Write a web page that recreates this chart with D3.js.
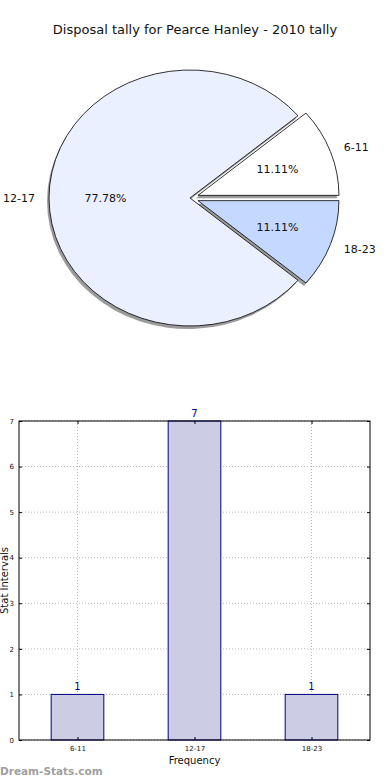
<!DOCTYPE html>
<html>
<head>
<meta charset="utf-8">
<script src="https://cdn.jsdelivr.net/npm/d3@7"></script>
<style>
  html, body { margin: 0; padding: 0; background: #fff; }
  svg { display: block; font-family: "DejaVu Sans", sans-serif; }
</style>
</head>
<body>
<div id="chart"></div>
<script>
// ── DATA ──────────────────────────────────────────────────────────────────
const TITLE = "Disposal tally for Pearce Hanley - 2010 tally";
const categories = ["6-11", "12-17", "18-23"];
const counts = [1, 7, 1];
const pieColors = ["#ffffff", "#eaf0ff", "#c5d8ff"];
const explode = [1, 0, 1];           // which slices are pulled out
const yTicks = [0, 1, 2, 3, 4, 5, 6, 7];

(function () {
const W = 390, H = 780;
const svg = d3.select("#chart").append("svg")
  .attr("width", W).attr("height", H);

svg.append("text")
  .attr("x", 195).attr("y", 34)
  .attr("text-anchor", "middle")
  .attr("font-size", "13px")
  .attr("fill", "#111")
  .text(TITLE);

// ── PIE ───────────────────────────────────────────────────────────────────
// matplotlib-style: starts at 3 o'clock, goes counter-clockwise, slightly squashed
const cx = 190, cy = 198, rx = 141, ry = 128;
const total = d3.sum(counts);
const pie = d3.pie().sort(null).value(d => d)
  .startAngle(Math.PI / 2).endAngle(Math.PI / 2 - 2 * Math.PI);
const arcsData = pie(counts);
const arc = d3.arc().innerRadius(0).outerRadius(1);

// math angle (radians, CCW from east) for a d3 angle
const mathAng = a => Math.PI / 2 - a;
const pt = (a, k) => [Math.cos(mathAng(a)) * k, -Math.sin(mathAng(a)) * k];
const expDist = 0.06;

const gPie = svg.append("g").attr("transform", `translate(${cx},${cy})`);

function slicePath(d) {
  return arc({ startAngle: Math.min(d.startAngle, d.endAngle),
               endAngle: Math.max(d.startAngle, d.endAngle) });
}

function offsetOf(d, i) {
  const mid = (d.startAngle + d.endAngle) / 2;
  const e = explode[i] ? expDist : 0;
  const [ox, oy] = pt(mid, e);
  return [ox * rx, oy * ry];
}

// shadows
arcsData.forEach((d, i) => {
  const [ox, oy] = offsetOf(d, i);
  gPie.append("path")
    .attr("d", slicePath(d))
    .attr("transform", `translate(${ox - 2},${oy + 3}) scale(${rx},${ry})`)
    .attr("fill", "#8a8a8a")
    .attr("opacity", 0.85);
});

// slices
arcsData.forEach((d, i) => {
  const [ox, oy] = offsetOf(d, i);
  gPie.append("path")
    .attr("d", slicePath(d))
    .attr("transform", `translate(${ox},${oy}) scale(${rx},${ry})`)
    .attr("fill", pieColors[i])
    .attr("stroke", "#000")
    .attr("stroke-width", 0.8)
    .attr("vector-effect", "non-scaling-stroke");
});

// labels
arcsData.forEach((d, i) => {
  const mid = (d.startAngle + d.endAngle) / 2;
  const [ox, oy] = offsetOf(d, i);
  const [lx, ly] = pt(mid, 1.1);
  const ma = mathAng(mid);
  gPie.append("text")
    .attr("x", lx * rx + ox).attr("y", ly * ry + oy)
    .attr("dy", "0.35em")
    .attr("text-anchor", Math.cos(ma) > 0.01 ? "start" : (Math.cos(ma) < -0.01 ? "end" : "middle"))
    .attr("font-size", "11px")
    .attr("fill", "#111")
    .text(categories[i]);
  const [px, py] = pt(mid, 0.6);
  gPie.append("text")
    .attr("x", px * rx + ox).attr("y", py * ry + oy)
    .attr("dy", "0.35em")
    .attr("text-anchor", "middle")
    .attr("font-size", "11px")
    .attr("fill", "#111")
    .text((counts[i] / total * 100).toFixed(2) + "%");
});

// ── BAR CHART ─────────────────────────────────────────────────────────────
const bLeft = 19, bRight = 370, bTop = 421, bBottom = 740;
const x = d3.scaleLinear().domain([-0.5, categories.length - 0.5]).range([bLeft, bRight]);
const y = d3.scaleLinear().domain([0, 7]).range([bBottom, bTop]);
const barW = x(0.45) - x(0);

const gBar = svg.append("g");

// grid
gBar.append("g")
  .selectAll("line").data(yTicks).join("line")
  .attr("x1", bLeft).attr("x2", bRight)
  .attr("y1", d => y(d)).attr("y2", d => y(d))
  .attr("stroke", "#bbb").attr("stroke-width", 1)
  .attr("stroke-dasharray", "1 2");
gBar.append("g")
  .selectAll("line").data(categories).join("line")
  .attr("x1", (d, i) => x(i)).attr("x2", (d, i) => x(i))
  .attr("y1", bTop).attr("y2", bBottom)
  .attr("stroke", "#bbb").attr("stroke-width", 1)
  .attr("stroke-dasharray", "1 2");

// bars
gBar.append("g")
  .selectAll("rect").data(counts).join("rect")
  .attr("x", (d, i) => x(i) - barW / 2)
  .attr("y", d => y(d))
  .attr("width", barW)
  .attr("height", d => y(0) - y(d))
  .attr("fill", "#cccce5")
  .attr("stroke", "#000080")
  .attr("stroke-width", 1);

// value labels
gBar.append("g")
  .selectAll("text").data(counts).join("text")
  .attr("x", (d, i) => x(i))
  .attr("y", d => y(d) - 4)
  .attr("text-anchor", "middle")
  .attr("font-size", "10px")
  .attr("fill", "#000080")
  .text(d => d);

// axes
gBar.append("g").attr("transform", `translate(${bLeft},0)`)
  .call(d3.axisLeft(y).tickValues(yTicks).tickSize(-3).tickPadding(5).tickFormat(d3.format("d")));
gBar.append("g").attr("transform", `translate(0,${bBottom})`)
  .call(d3.axisBottom(x).tickValues(d3.range(categories.length)).tickSize(-3).tickPadding(6)
    .tickFormat(i => categories[i]));
gBar.append("g").attr("transform", `translate(${bRight},0)`)
  .call(d3.axisRight(y).tickValues(yTicks).tickSize(-3).tickFormat(""));
gBar.append("g").attr("transform", `translate(0,${bTop})`)
  .call(d3.axisTop(x).tickValues(d3.range(categories.length)).tickSize(-3).tickFormat(""));
gBar.selectAll(".domain").remove();
gBar.selectAll(".tick text").attr("font-size", "7px").attr("fill", "#111")
  .attr("font-family", "DejaVu Sans, sans-serif");

gBar.append("rect")
  .attr("x", bLeft).attr("y", bTop)
  .attr("width", bRight - bLeft).attr("height", bBottom - bTop)
  .attr("fill", "none").attr("stroke", "#000").attr("stroke-width", 1);

gBar.append("text")
  .attr("x", (bLeft + bRight) / 2).attr("y", 764)
  .attr("text-anchor", "middle")
  .attr("font-size", "10px").attr("fill", "#111")
  .text("Frequency");

gBar.append("text")
  .attr("transform", `translate(8,${(bTop + bBottom) / 2}) rotate(-90)`)
  .attr("text-anchor", "middle")
  .attr("font-size", "10px").attr("fill", "#111")
  .text("Stat Intervals");

svg.append("text")
  .attr("x", 0).attr("y", 775)
  .attr("font-size", "10.5px").attr("font-weight", "bold")
  .attr("fill", "#a0a0a0")
  .text("Dream-Stats.com");
})();
</script>
</body>
</html>
